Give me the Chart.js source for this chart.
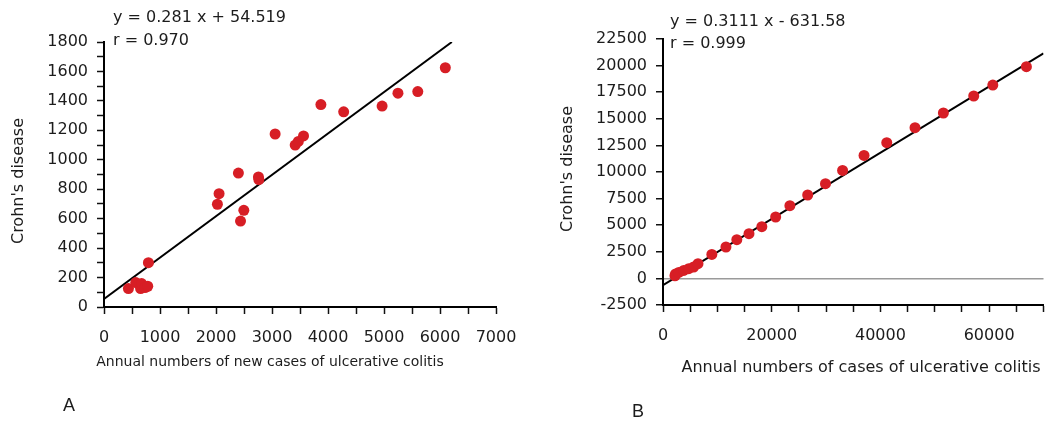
<!DOCTYPE html>
<html>
<head>
<meta charset="utf-8">
<script src="https://cdn.jsdelivr.net/npm/chart.js@4.4.1/dist/chart.umd.min.js"></script>
<style>
    body { margin: 0; background: #fff; width: 1049px; height: 425px; position: relative; overflow: hidden; }
    .panel { position: absolute; top: 0; }
    #panel-a { left: 0;     width: 520px; height: 425px; }
    #panel-b { left: 520px; width: 529px; height: 425px; }
</style>
</head>
<body>
<div class="panel" id="panel-a"><canvas id="chart-a" width="520" height="425"></canvas></div>
<div class="panel" id="panel-b"><canvas id="chart-b" width="529" height="425"></canvas></div>

<script>
// ───────────────────────── DATA ─────────────────────────
// Panel A: new cases of ulcerative colitis vs Crohn's disease
const ucNewA = [436, 567, 654, 672, 733, 781, 793, 2025, 2055, 2400, 2438, 2497, 2758, 2765,
                3056, 3414, 3470, 3563, 3873, 4280, 4966, 5249, 5603, 6095];
const crohnA = [125, 166, 125, 159, 132, 141, 301, 698, 770, 910, 584, 657, 883, 866,
                1175, 1100, 1125, 1162, 1375, 1326, 1365, 1452, 1463, 1625];
const fitAx  = [0, 6212];        // regression line ends
const fitAy  = [54.5, 1800];
const eqA    = ["y = 0.281 x + 54.519", "r = 0.970"];

// Panel B: cases of ulcerative colitis vs Crohn's disease
const ucB    = [2200, 2309, 2909, 3818, 4727, 5636, 6436, 8982, 11582, 13582, 15818, 18182,
                20727, 23345, 26618, 29891, 33036, 36982, 41164, 46364, 51582, 57164, 60673, 66855];
const crohnB = [250, 414, 564, 752, 912, 1071, 1382, 2256, 2951, 3637, 4201, 4859,
                5771, 6833, 7838, 8900, 10150, 11560, 12754, 14163, 15545, 17143, 18175, 19897];
const fitBx  = [0, 70000];
const fitBy  = [-631.58, 21145];
const eqB    = ["y = 0.3111 x - 631.58", "r = 0.999"];

const xTitleA = "Annual numbers of new cases of ulcerative colitis";
const xTitleB = "Annual numbers of cases of ulcerative colitis";
const yTitle  = "Crohn's disease";

// ───────────────────────── DEFAULTS ─────────────────────────
Chart.defaults.font.family = "DejaVu Sans";
Chart.defaults.color       = "#1c1c1c";

const DOT  = "#d71e25";
const TEXT = "#1c1c1c";

const toPoints = (xs, ys) => xs.map((x, i) => ({ x, y: ys[i] }));

// draws the free text (equation, axis titles, panel letter)
function textPlugin(items) {
    return {
        id: "texts",
        afterDraw(chart) {
            const c = chart.ctx;
            c.save();
            c.fillStyle = TEXT;
            items.forEach(t => {
                c.save();
                c.font         = t.font;
                c.textAlign    = t.align || "left";
                c.textBaseline = "middle";
                c.translate(t.x, t.y);
                if (t.rotate) c.rotate(t.rotate);
                c.fillText(t.text, 0, 0);
                c.restore();
            });
            c.restore();
        }
    };
}

function axisTicks(extra) {
    return Object.assign({
        drawOnChartArea: false,
        drawTicks:       true,
        tickLength:      7,
        tickColor:       "#111",
        tickWidth:       1.5,
    }, extra || {});
}

// no label overflow padding: chart area comes from layout.padding only
const noOverflow = s => { s.paddingLeft = 0; s.paddingRight = 0; s.paddingTop = 0; s.paddingBottom = 0; };

function buildChart(id, cfg) {
    return new Chart(document.getElementById(id), {
        type: "scatter",
        data: {
            datasets: [{
                data:            toPoints(cfg.xs, cfg.ys),
                backgroundColor: DOT,
                borderWidth:     0,
                pointRadius:     5.5,
                order:           1,
            }, {
                type:        "line",
                data:        toPoints(cfg.fitX, cfg.fitY),
                borderColor: "#000",
                borderWidth: 2,
                pointRadius: 0,
                fill:        false,
                order:       2,
            }]
        },
        options: {
            responsive: false,
            animation:  false,
            layout:     { padding: cfg.padding },
            plugins: {
                legend:  { display: false },
                tooltip: { enabled: false },
            },
            scales: {
                x: {
                    type: "linear",
                    min: cfg.xMin, max: cfg.xMax,
                    afterFit: s => { s.height = cfg.xAxisH; noOverflow(s); },
                    border: { color: "#000", width: 2 },
                    grid:   axisTicks(),
                    ticks:  {
                        stepSize: cfg.xStep, autoSkip: false, maxRotation: 0, padding: 14,
                        font: { size: 16 }, color: TEXT,
                        callback: v => (v % cfg.xLabelEvery === 0 ? String(v) : ""),
                    },
                },
                y: {
                    type: "linear",
                    min: cfg.yMin, max: cfg.yMax,
                    afterFit: s => { s.width = cfg.yAxisW; noOverflow(s); },
                    border: { color: "#000", width: 2 },
                    grid:   axisTicks(cfg.yGrid),
                    ticks:  {
                        stepSize: cfg.yStep, autoSkip: false, padding: 9,
                        font: { size: 16 }, color: TEXT,
                        callback: v => (v % cfg.yLabelEvery === 0 ? String(v) : ""),
                    },
                },
            },
        },
        plugins: [textPlugin(cfg.texts)],
    });
}

// ───────────────────────── PANEL A ─────────────────────────
buildChart("chart-a", {
    xs: ucNewA, ys: crohnA, fitX: fitAx, fitY: fitAy,
    xMin: 0, xMax: 7000, xStep: 500, xLabelEvery: 1000,
    yMin: 0, yMax: 1800, yStep: 100, yLabelEvery: 200,
    yAxisW: 104, xAxisH: 118,
    padding: { top: 42, right: 24, left: 0, bottom: 0 },
    texts: [
        { text: eqA[0],  x: 113, y: 18, font: "16px 'DejaVu Sans'" },
        { text: eqA[1],  x: 113, y: 41, font: "16px 'DejaVu Sans'" },
        { text: xTitleA, x: 270, y: 362, font: "14px 'DejaVu Sans'", align: "center" },
        { text: yTitle,  x: 19,  y: 181, font: "16px 'DejaVu Sans'", align: "center", rotate: -Math.PI / 2 },
        { text: "A",     x: 63,  y: 406, font: "18px 'Liberation Sans'" },
    ],
});

// ───────────────────────── PANEL B ─────────────────────────
buildChart("chart-b", {
    xs: ucB, ys: crohnB, fitX: fitBx, fitY: fitBy,
    xMin: 0, xMax: 70000, xStep: 5000, xLabelEvery: 20000,
    yMin: -2500, yMax: 22500, yStep: 2500, yLabelEvery: 2500,
    yAxisW: 143, xAxisH: 120,
    padding: { top: 39, right: 0, left: 0, bottom: 0 },
    yGrid: {
        drawOnChartArea: true,
        color:     c => (c.tick && c.tick.value === 0 ? "#9a9a9a" : "rgba(0,0,0,0)"),
        lineWidth: 1.5,
    },
    texts: [
        { text: eqB[0],  x: 150, y: 22, font: "16px 'DejaVu Sans'" },
        { text: eqB[1],  x: 150, y: 44, font: "16px 'DejaVu Sans'" },
        { text: xTitleB, x: 341, y: 368, font: "16px 'DejaVu Sans'", align: "center" },
        { text: yTitle,  x: 48,  y: 169, font: "16px 'DejaVu Sans'", align: "center", rotate: -Math.PI / 2 },
        { text: "B",     x: 112, y: 412, font: "18px 'Liberation Sans'" },
    ],
});
</script>
</body>
</html>
